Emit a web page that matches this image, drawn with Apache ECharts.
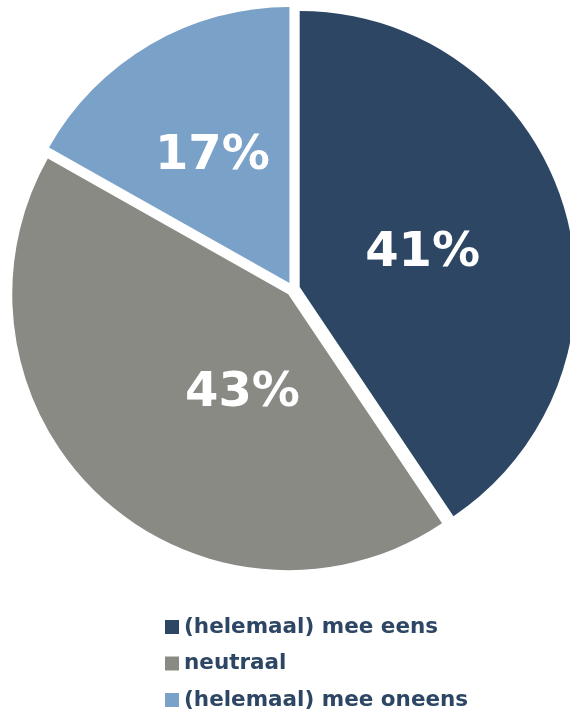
<!DOCTYPE html>
<html>
<head>
<meta charset="utf-8">
<script src="https://cdn.jsdelivr.net/npm/echarts@6/dist/echarts.min.js"></script>
<style>
  html, body { margin: 0; padding: 0; background: #ffffff; }
  #chart { width: 570px; height: 711px; }
</style>
</head>
<body>
<div id="chart"></div>
<script>
// Antwoordcategorieën en hun aandeel (%)
const categories = ['(helemaal) mee eens', 'neutraal', '(helemaal) mee oneens'];
const shares = [41, 43, 17];
const colors = ['#2c4664', '#8a8a85', '#7aa1c8'];
// per-slice nudge of the percentage label
const labelNudges = [[-12, 8], [50, -4], [-6, -5]];

const FONT = '"DejaVu Sans", Verdana, sans-serif';

const chart = echarts.init(document.getElementById('chart'), null, { renderer: 'canvas' });

const pieData = categories.map((name, i) => ({
  name: name,
  value: shares[i],
  selected: true,
  itemStyle: { color: colors[i] }
}));

chart.setOption({
  animation: false,
  backgroundColor: '#ffffff',
  legend: {
    orient: 'vertical',
    left: 165,
    top: 616,
    height: 120,
    padding: 0,
    itemWidth: 14,
    itemHeight: 14,
    itemGap: 14.5,
    icon: 'rect',
    selectedMode: false,
    data: categories,
    textStyle: {
      fontFamily: FONT,
      fontWeight: 'bold',
      fontSize: 21.5,
      lineHeight: 22,
      color: '#2c4664'
    }
  },
  series: [{
    type: 'pie',
    center: [293, 289],
    radius: [0, 276],
    startAngle: 90,
    clockwise: true,
    selectedMode: 'multiple',
    selectedOffset: 7,
    avoidLabelOverlap: false,
    silent: true,
    label: {
      show: true,
      position: 'inside',
      formatter: '{c}%',
      color: '#ffffff',
      fontFamily: FONT,
      fontWeight: 'bold',
      fontSize: 48
    },
    labelLayout: function (params) {
      const n = labelNudges[params.dataIndex];
      return { dx: n[0], dy: n[1] };
    },
    labelLine: { show: false },
    emphasis: { disabled: true },
    select: { itemStyle: {} },
    data: pieData
  }]
});
</script>
</body>
</html>
